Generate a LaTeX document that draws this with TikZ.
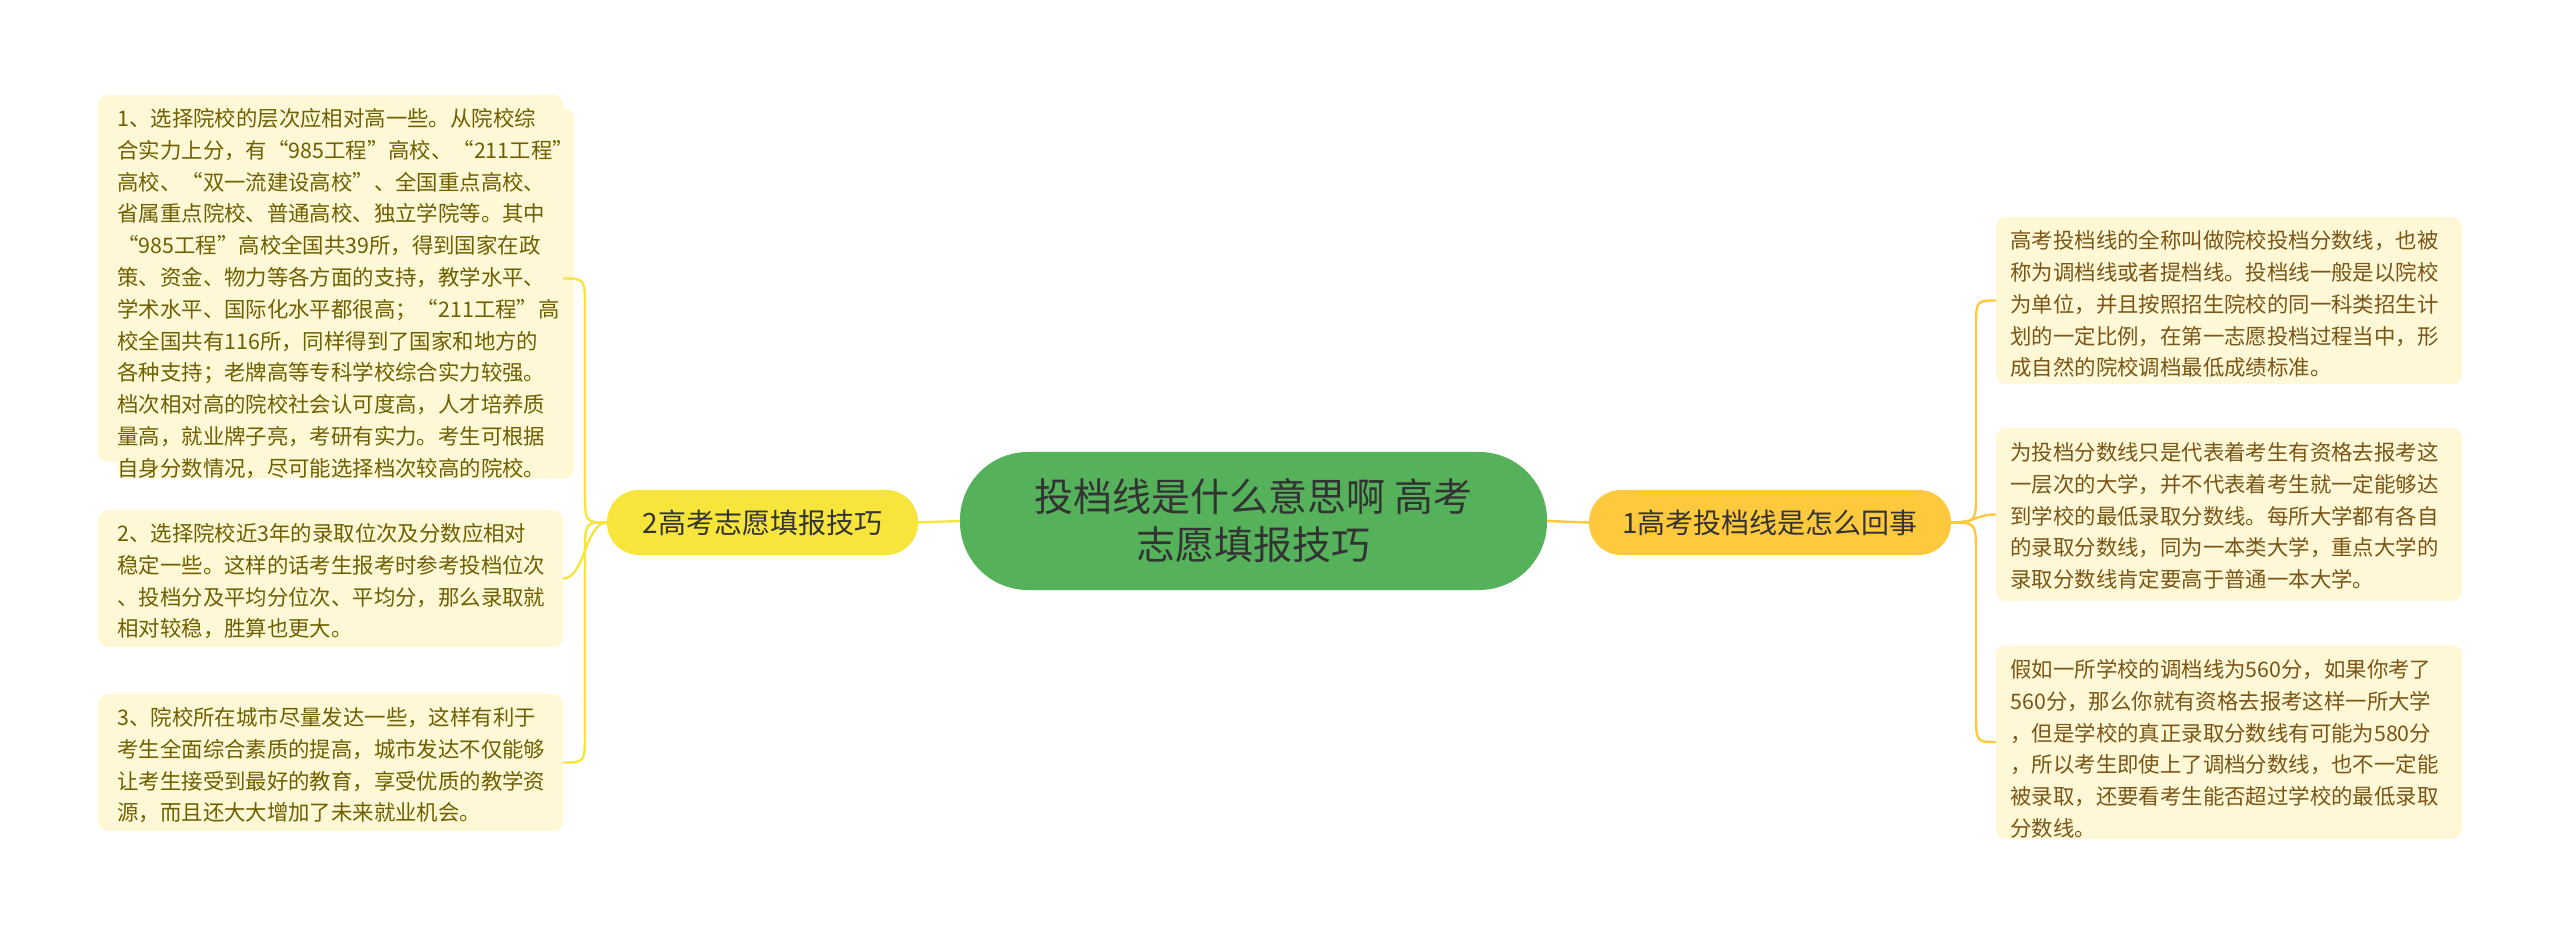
\documentclass[tikz,border=0pt]{standalone}
\usepackage{fontspec}
\setmainfont{Noto Sans CJK SC}
\begin{document}
\begin{tikzpicture}[x=0.5pt,y=-0.5pt,
  leafL/.style={draw=none,fill=leaffill,rounded corners=5pt,align=left,anchor=north west,inner sep=0pt,text=leftxt,font=\fontsize{10.7}{15.9}\selectfont},
  leafR/.style={leafL,text=rightxt},
  lineL/.style={draw=ylw,line width=1.2pt},
  lineR/.style={draw=org,line width=1.2pt}]
\definecolor{leaffill}{HTML}{FFF8D6}
\definecolor{leftxt}{HTML}{6E5F00}
\definecolor{rightxt}{HTML}{7A5516}
\definecolor{ylw}{HTML}{F7E53C}
\definecolor{org}{HTML}{FFC93E}
\definecolor{grn}{HTML}{55B25B}
\useasboundingbox (0,0) rectangle (2560,935);
\fill[white] (0,0) rectangle (2560,935);
% center
\fill[grn,rounded corners=34pt] (960,452) rectangle (1547,590);
\node[font=\fontsize{19.5}{24}\selectfont,align=center,text=black!80] (c) at (1253.5,521) {投档线是什么意思啊 高考\\志愿填报技巧};
\coordinate (cl) at (960,521); \coordinate (cr) at (1547,521);
% branches
\fill[ylw,rounded corners=16pt] (607,490) rectangle (918,555);
\node[font=\fontsize{14}{17}\selectfont,text=black!80] (bl) at (762.5,522.5) {2高考志愿填报技巧};
\fill[org,rounded corners=16pt] (1589,490) rectangle (1951,555);
\node[font=\fontsize{14}{17}\selectfont,text=black!80] (br) at (1770,522.5) {1高考投档线是怎么回事};
\coordinate (bll) at (607,522.5); \coordinate (blr) at (918,522.5);
\coordinate (brl) at (1589,522.5); \coordinate (brr) at (1951,522.5);
\draw[lineL] (cl) -- (blr);
\draw[lineR] (cr) -- (brl);
% left leaves
\fill[leaffill,rounded corners=5pt] (98,95) rectangle (563,462);
\node[leafL] (l1) at (117,108) {1、选择院校的层次应相对高一些。从院校综\\合实力上分，有“985工程”高校、“211工程”\\高校、“双一流建设高校”、全国重点高校、\\省属重点院校、普通高校、独立学院等。其中\\“985工程”高校全国共39所，得到国家在政\\策、资金、物力等各方面的支持，教学水平、\\学术水平、国际化水平都很高；“211工程”高\\校全国共有116所，同样得到了国家和地方的\\各种支持；老牌高等专科学校综合实力较强。\\档次相对高的院校社会认可度高，人才培养质\\量高，就业牌子亮，考研有实力。考生可根据\\自身分数情况，尽可能选择档次较高的院校。};
\fill[leaffill,rounded corners=5pt] (98,510) rectangle (563,647);
\node[leafL] (l2) at (117,523) {2、选择院校近3年的录取位次及分数应相对\\稳定一些。这样的话考生报考时参考投档位次\\、投档分及平均分位次、平均分，那么录取就\\相对较稳，胜算也更大。};
\fill[leaffill,rounded corners=5pt] (98,694) rectangle (563,831);
\node[leafL] (l3) at (117,707) {3、院校所在城市尽量发达一些，这样有利于\\考生全面综合素质的提高，城市发达不仅能够\\让考生接受到最好的教育，享受优质的教学资\\源，而且还大大增加了未来就业机会。};
\coordinate (e1) at (563,278.5); \coordinate (e2) at (563,578.5); \coordinate (e3) at (563,762.5);
\draw[lineL] (bll) .. controls (585,522.5) .. (585,490) -- (585,310) .. controls (585,278.5) .. (e1);
\draw[lineL] (bll) .. controls (585,522.5) and (585,578.5) .. (e2);
\draw[lineL] (bll) .. controls (585,522.5) .. (585,555) -- (585,732) .. controls (585,762.5) .. (e3);
% right leaves
\fill[leaffill,rounded corners=5pt] (1996,217) rectangle (2462,384);
\node[leafR] (r1) at (2010,230) {高考投档线的全称叫做院校投档分数线，也被\\称为调档线或者提档线。投档线一般是以院校\\为单位，并且按照招生院校的同一科类招生计\\划的一定比例，在第一志愿投档过程当中，形\\成自然的院校调档最低成绩标准。};
\fill[leaffill,rounded corners=5pt] (1996,428) rectangle (2462,601);
\node[leafR] (r2) at (2010,442) {为投档分数线只是代表着考生有资格去报考这\\一层次的大学，并不代表着考生就一定能够达\\到学校的最低录取分数线。每所大学都有各自\\的录取分数线，同为一本类大学，重点大学的\\录取分数线肯定要高于普通一本大学。};
\fill[leaffill,rounded corners=5pt] (1996,645) rectangle (2462,839);
\node[leafR] (r3) at (2010,659) {假如一所学校的调档线为560分，如果你考了\\560分，那么你就有资格去报考这样一所大学\\，但是学校的真正录取分数线有可能为580分\\，所以考生即使上了调档分数线，也不一定能\\被录取，还要看考生能否超过学校的最低录取\\分数线。};
\coordinate (f1) at (1996,300.5); \coordinate (f2) at (1996,514.5); \coordinate (f3) at (1996,742);
\draw[lineR] (brr) .. controls (1976,522.5) .. (1976,490) -- (1976,330) .. controls (1976,300.5) .. (f1);
\draw[lineR] (brr) .. controls (1976,522.5) and (1976,514.5) .. (f2);
\draw[lineR] (brr) .. controls (1976,522.5) .. (1976,555) -- (1976,712) .. controls (1976,742) .. (f3);
\end{tikzpicture}
\end{document}
